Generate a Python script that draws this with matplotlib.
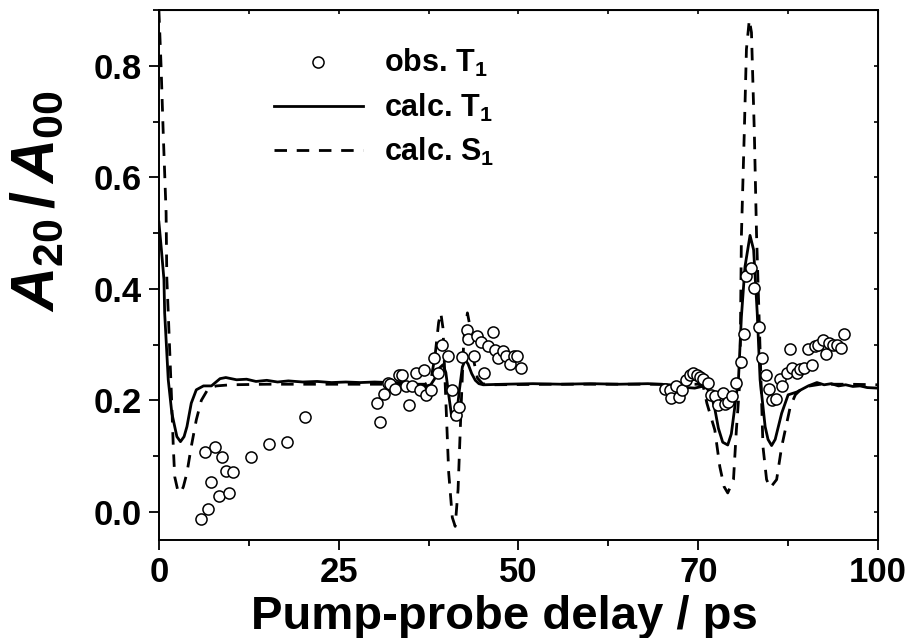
import numpy as np
import matplotlib.pyplot as plt
from matplotlib.ticker import MultipleLocator, FixedLocator

plt.rcParams['font.family'] = ['Liberation Sans', 'DejaVu Sans']
plt.rcParams['font.weight'] = 'bold'
plt.rcParams['axes.labelweight'] = 'bold'
plt.rcParams['mathtext.fontset'] = 'custom'
plt.rcParams['mathtext.rm'] = 'Liberation Sans:bold'
plt.rcParams['mathtext.it'] = 'Liberation Sans:bold:italic'
plt.rcParams['mathtext.bf'] = 'Liberation Sans:bold'

# observed T1 anisotropy (circles)
obs_x = [5.8, 6.8, 8.3, 9.8, 7.3, 9.3, 10.3, 8.8, 6.4, 7.8, 12.8, 15.3, 17.8, 20.3,
         30.8, 30.3, 31.3, 31.8, 32.1, 32.8, 33.4, 33.8, 34.8, 34.4, 35.2, 35.8,
         36.8, 36.3, 37.2, 37.8, 38.3, 38.8, 39.3, 40.2, 40.8, 41.3, 41.8, 42.2,
         42.8, 43.0, 43.8, 44.3, 44.8, 45.2, 45.7, 46.4, 46.7, 47.2, 47.9, 48.3,
         48.8, 49.4, 49.8, 50.3,
         70.4, 71.1, 71.2, 72.3, 71.9, 72.8, 73.3, 73.8, 74.3, 74.8, 75.2, 75.7,
         76.3, 76.8, 77.3, 77.8, 78.4, 78.7, 79.2, 79.7, 80.3, 80.9, 81.4, 81.6,
         82.4, 82.8, 83.4, 83.8, 84.4, 84.9, 85.3, 85.8, 86.3, 86.7, 87.3, 87.8,
         88.1, 88.7, 89.2, 89.7, 90.2, 90.8, 91.2, 91.7, 92.3, 92.8, 93.2, 93.8,
         94.3, 94.8, 95.3]
obs_y = [-0.013, 0.005, 0.028, 0.034, 0.053, 0.074, 0.071, 0.099, 0.107, 0.116, 0.099,
         0.122, 0.125, 0.170,
         0.162, 0.195, 0.212, 0.232, 0.230, 0.220, 0.245, 0.246, 0.191, 0.226, 0.225,
         0.250, 0.255, 0.219, 0.210, 0.219, 0.276, 0.249, 0.300, 0.280, 0.218, 0.174,
         0.188, 0.277, 0.327, 0.310, 0.280, 0.316, 0.304, 0.250, 0.297, 0.322, 0.291,
         0.276, 0.288, 0.279, 0.265, 0.280, 0.279, 0.258,
         0.220, 0.219, 0.204, 0.206, 0.226, 0.219, 0.237, 0.246, 0.249, 0.245, 0.242,
         0.239, 0.231, 0.210, 0.207, 0.192, 0.213, 0.194, 0.198, 0.207, 0.231, 0.268,
         0.319, 0.424, 0.438, 0.402, 0.332, 0.276, 0.246, 0.221, 0.200, 0.203, 0.239,
         0.225, 0.250, 0.292, 0.258, 0.249, 0.257, 0.258, 0.292, 0.263, 0.297, 0.300,
         0.308, 0.284, 0.303, 0.300, 0.300, 0.294, 0.320]

# calculated T1 (solid)
t1_x = [0.0, 0.35, 0.7, 0.8, 1.3, 1.8, 2.5, 3.0, 3.5, 3.9, 4.5, 5.2, 6.2, 7.3, 8.5,
        9.3, 10.8, 12.2, 13.5, 15.0, 16.5, 18.0, 20.0, 22.0, 24.0, 26.0, 28.0, 30.0,
        32.0, 34.0, 35.0, 36.0, 37.0, 37.8, 38.4, 39.0, 39.5, 39.9, 40.3, 40.7, 41.0,
        41.4, 41.8, 42.2, 42.6, 43.0, 43.5, 44.0, 44.5, 45.1, 48.0, 52.0, 56.0, 60.0,
        64.0, 68.0, 71.0, 72.5, 73.5, 74.5, 75.5, 76.2, 76.8, 77.3, 77.8, 78.4, 79.1,
        79.6, 80.1, 80.6, 81.0, 81.5, 82.2, 82.7, 83.2, 83.6, 84.3, 84.7, 85.2, 85.7,
        86.6, 87.5, 88.7, 90.3, 91.5, 92.5, 93.5, 94.5, 95.5, 96.5, 97.5, 98.5, 100.0]
t1_y = [0.52, 0.47, 0.417, 0.357, 0.237, 0.177, 0.135, 0.126, 0.135, 0.153, 0.195,
        0.219, 0.226, 0.226, 0.239, 0.241, 0.237, 0.238, 0.234, 0.236, 0.233, 0.235,
        0.233, 0.234, 0.232, 0.233, 0.232, 0.233, 0.232, 0.232, 0.230, 0.227, 0.225,
        0.228, 0.240, 0.258, 0.264, 0.250, 0.210, 0.172, 0.165, 0.175, 0.220, 0.260,
        0.273, 0.265, 0.248, 0.236, 0.230, 0.228, 0.229, 0.230, 0.229, 0.230, 0.229,
        0.230, 0.228, 0.226, 0.223, 0.222, 0.225, 0.222, 0.210, 0.185, 0.150, 0.125,
        0.120, 0.140, 0.190, 0.240, 0.350, 0.440, 0.496, 0.470, 0.357, 0.237, 0.153,
        0.130, 0.119, 0.130, 0.177, 0.210, 0.215, 0.226, 0.232, 0.228, 0.230, 0.226,
        0.228, 0.225, 0.226, 0.223, 0.222]

# calculated S1 (dashed)
s1_x = [0.0, 0.3, 0.6, 1.0, 1.1, 1.3, 1.8, 2.0, 2.2, 2.6, 3.0, 3.4, 3.9, 4.5, 5.2,
        5.9, 6.9, 8.0, 10.0, 15.0, 20.0, 25.0, 30.0, 36.0, 37.0, 37.8, 38.4, 38.9,
        39.2, 39.5, 39.9, 40.3, 40.8, 41.2, 41.6, 42.0, 42.4, 42.9, 43.3, 43.8, 44.3,
        45.0, 46.0, 55.0, 65.0, 75.0, 75.7, 76.2, 77.3, 78.0, 78.6, 79.1, 79.9, 80.3,
        80.8, 81.0, 81.4, 81.7, 82.1, 82.4, 82.8, 83.1, 83.5, 84.0, 84.5, 85.0, 85.9,
        86.6, 87.8, 88.5, 89.6, 92.0, 96.0, 100.0]
s1_y = [0.90, 0.80, 0.68, 0.537, 0.42, 0.357, 0.19, 0.117, 0.063, 0.040, 0.034, 0.045,
        0.070, 0.117, 0.165, 0.200, 0.222, 0.226, 0.228, 0.229, 0.229, 0.229, 0.229,
        0.229, 0.229, 0.235, 0.280, 0.340, 0.357, 0.330, 0.200, 0.070, -0.010, -0.026,
        0.040, 0.180, 0.310, 0.357, 0.330, 0.270, 0.240, 0.230, 0.228, 0.229, 0.229,
        0.229, 0.225, 0.195, 0.147, 0.081, 0.045, 0.034, 0.058, 0.147, 0.237, 0.495,
        0.680, 0.830, 0.883, 0.860, 0.680, 0.500, 0.333, 0.117, 0.058, 0.043, 0.058,
        0.117, 0.189, 0.210, 0.224, 0.229, 0.229, 0.228]

x_ticks = [0, 25, 50, 75, 100]
x_ticklabels = ['0', '25', '50', '70', '100']

fig = plt.figure(figsize=(9.08, 6.38), dpi=100)
ax = fig.add_axes([0.175, 0.154, 0.792, 0.830])

ax.plot(t1_x, t1_y, c='black', lw=2.0, ls='-', label=r'calc. T$_1$', zorder=2)
ax.plot(s1_x, s1_y, c='black', lw=2.0, ls=(0, (4.5, 3.5)), label=r'calc. S$_1$', zorder=2)
ax.plot(obs_x, obs_y, ls='none', marker='o', ms=8, mfc='white', mec='black',
        mew=1.1, label=r'obs. T$_1$', zorder=3)

ax.set_xlim(0, 100)
ax.set_ylim(-0.05, 0.9)
ax.set_xticks(x_ticks)
ax.set_xticklabels(x_ticklabels)
ax.xaxis.set_minor_locator(FixedLocator([12.5, 37.5, 62.5, 87.5]))
ax.yaxis.set_major_locator(MultipleLocator(0.2))
ax.yaxis.set_minor_locator(MultipleLocator(0.1))
ax.yaxis.set_major_formatter(plt.FormatStrFormatter('%.1f'))

for s in ax.spines.values():
    s.set_linewidth(1.4)
ax.tick_params(which='major', direction='out', length=7, width=1.3,
               labelsize=25, pad=5)
ax.tick_params(which='minor', direction='out', length=4, width=1.3)

# inward ticks on top and right
sec_x = ax.secondary_xaxis('top')
sec_x.set_xticks(x_ticks)
sec_x.xaxis.set_minor_locator(FixedLocator([12.5, 37.5, 62.5, 87.5]))
sec_x.tick_params(which='both', direction='in', length=3, width=1.2, labeltop=False)
sec_y = ax.secondary_yaxis('right')
sec_y.yaxis.set_major_locator(MultipleLocator(0.2))
sec_y.yaxis.set_minor_locator(MultipleLocator(0.1))
sec_y.tick_params(which='both', direction='in', length=3, width=1.2, labelright=False)

ax.set_xlabel('Pump-probe delay / ps', fontsize=34, fontweight='bold')
ax.xaxis.set_label_coords(0.48, -0.104)
ax.set_ylabel(r'$A_{20}\,/\,A_{00}$', fontsize=44)
ax.yaxis.set_label_coords(-0.128, 0.64)

h, l = ax.get_legend_handles_labels()
order = [2, 0, 1]
ax.legend([h[i] for i in order], [l[i] for i in order], loc='upper left',
          bbox_to_anchor=(0.16, 0.93), frameon=False, fontsize=22,
          handlelength=2.9, handletextpad=0.7, labelspacing=0.4,
          borderpad=0, borderaxespad=0)

plt.savefig('out.png', dpi=100)
